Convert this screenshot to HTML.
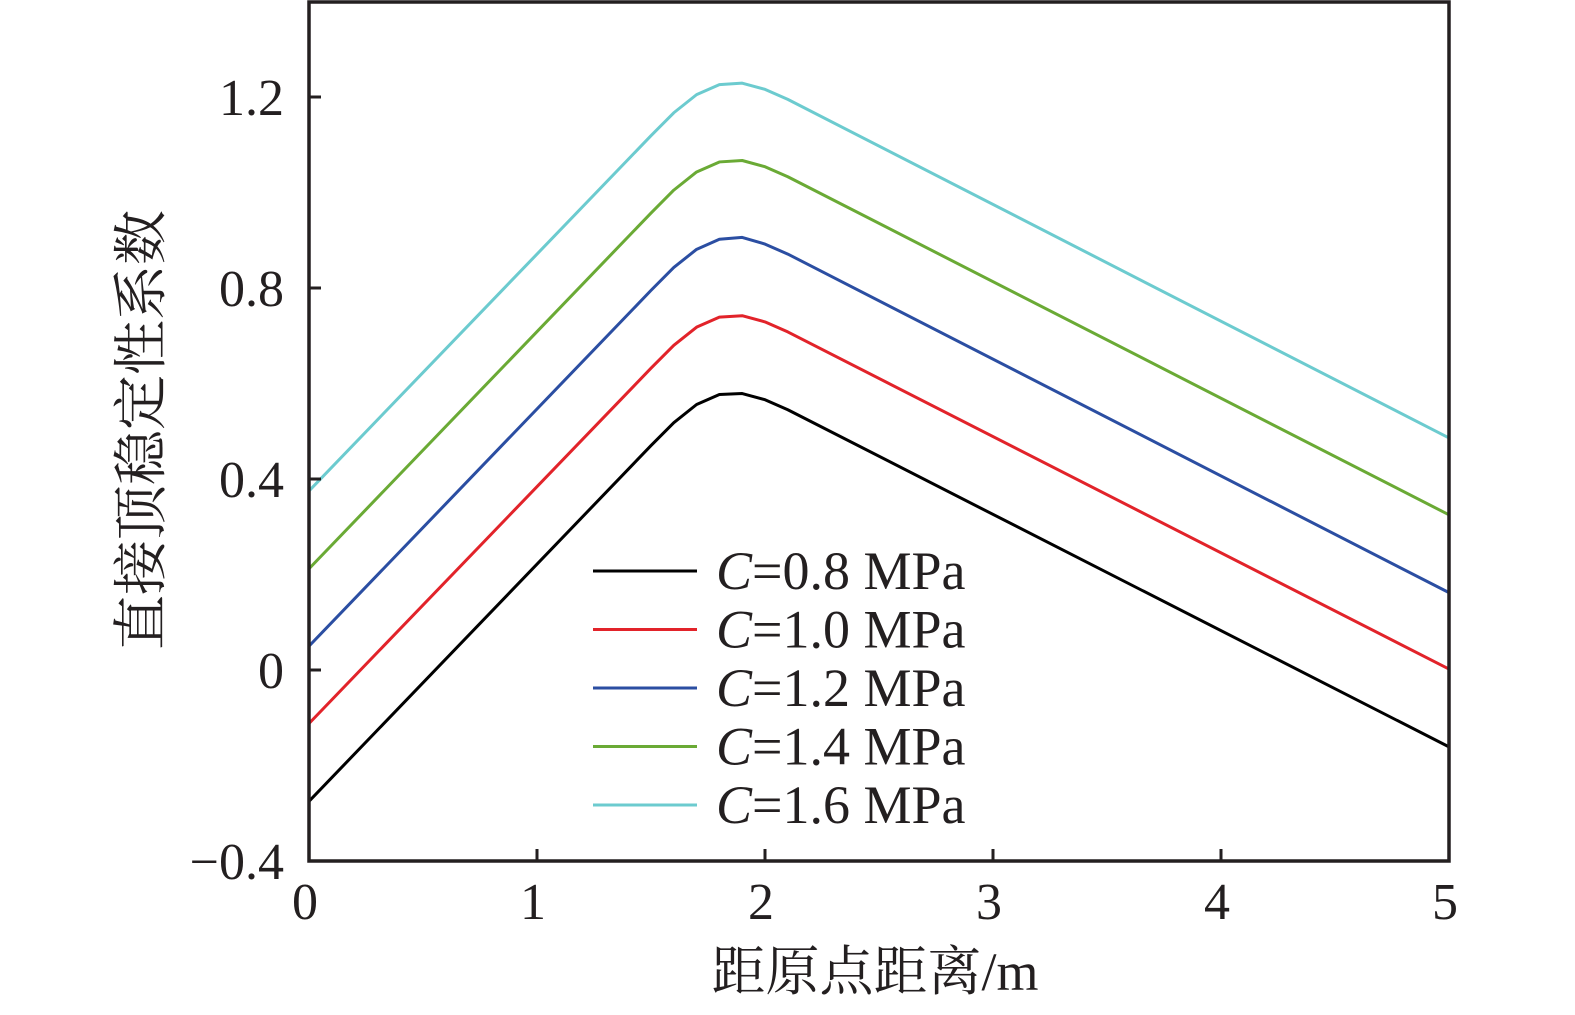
<!DOCTYPE html>
<html><head><meta charset="utf-8"><style>
body{margin:0;background:#fff}
svg text{font-family:"Liberation Serif","Noto Serif CJK SC",serif;fill:#231f20}
</style></head><body>
<svg width="1575" height="1010" xmlns="http://www.w3.org/2000/svg">
<g id="plot"></g>
<g id="axes"></g>
<g id="legend"></g>
<text x="875" y="990" font-size="54" text-anchor="middle">距原点距离/m</text>
<text transform="translate(160,430) rotate(-90)" font-size="55" text-anchor="middle">直接顶稳定性系数</text>
</svg>
<script>
const xs=[0,1.5,1.6,1.7,1.8,1.9,2.0,2.1,5];
const c08=[-0.275,0.47,0.518,0.556,0.577,0.579,0.566,0.545,-0.161];
const c10=[-0.112,0.632,0.680,0.718,0.739,0.742,0.729,0.708,0.002];
const c12=[0.050,0.795,0.843,0.881,0.902,0.906,0.892,0.871,0.162];
const c14=[0.212,0.957,1.005,1.043,1.064,1.067,1.054,1.033,0.325];
const c16=[0.375,1.119,1.167,1.205,1.226,1.229,1.216,1.195,0.486];
const seriesNames=["0.8","1.0","1.2","1.4","1.6"];
const xTicks=[0,1,2,3,4,5];
const yTicks=[-0.4,0,0.4,0.8,1.2];
const yTickLabels=["\u22120.4","0","0.4","0.8","1.2"];
const series=[c08,c10,c12,c14,c16];
const colors=["#000000","#e2232a","#2b4ea2","#6aaa35","#6ccbcf"];
const NS="http://www.w3.org/2000/svg";
const X=v=>309+v*228, Y=v=>670-v*477.5;
const L=309,R=1449,T=2,B=861;
function mk(tag,attrs,parent){const e=document.createElementNS(NS,tag);for(const k in attrs)e.setAttribute(k,attrs[k]);parent.appendChild(e);return e;}
const plot=document.getElementById('plot'),axes=document.getElementById('axes'),leg=document.getElementById('legend');
series.forEach((s,i)=>{
 const p=mk('polyline',{points:s.map((v,j)=>X(xs[j])+','+Y(v)).join(' '),fill:'none',stroke:colors[i],'stroke-width':3,'stroke-linejoin':'round'},plot);
 
 
});
const fr=mk('rect',{x:L,y:T,width:R-L,height:B-T,fill:'none',stroke:'#231f20','stroke-width':3.5},axes);


xTicks.forEach(t=>{
 const tk=mk('line',{x1:X(t),x2:X(t),y1:B,y2:B-12,stroke:'#231f20','stroke-width':3},axes);
 
 
 const tx=mk('text',{x:X(t)-4,y:919,'font-size':52,'text-anchor':'middle'},axes);tx.textContent=t;
 
 
});
yTicks.forEach((t,i)=>{
 const tk=mk('line',{x1:L,x2:L+12,y1:Y(t),y2:Y(t),stroke:'#231f20','stroke-width':3},axes);
 
 
 const tx=mk('text',{x:284,y:Y(t)+18,'font-size':52,'text-anchor':'end'},axes);tx.textContent=yTickLabels[i];
 
 
});
seriesNames.forEach((n,i)=>{
 const y=571+i*58.5;
 const g=mk('g',{},leg);
 
 
 mk('line',{x1:593,x2:697,y1:y,y2:y,stroke:colors[i],'stroke-width':3},g);
 const t=mk('text',{x:716,y:y+18,'font-size':54},g);
 t.innerHTML='<tspan font-style="italic">C</tspan>='+n+' MPa';
});
</script>
</body></html>
